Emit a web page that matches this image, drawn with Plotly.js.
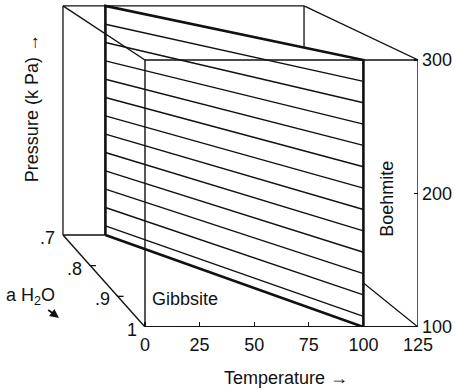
<!DOCTYPE html>
<html>
<head>
<meta charset="utf-8">
<script src="https://cdn.plot.ly/plotly-3.0.1.min.js"></script>
<style>html,body{margin:0;padding:0;background:#fff;}#chart{width:455px;height:390px;}</style>
</head>
<body>
<div id="chart"></div>
<script>
// ---- data ----
const T_TICKS = [0, 25, 50, 75, 100, 125];          // Temperature
const P_TICKS = [100, 200, 300];                     // Pressure (kPa)
const A_TICKS = [0.7, 0.8, 0.9, 1.0];                // a H2O
const A_TICK_LABELS = ['.7', '.8', '.9', '1'];
const T_RANGE = [0, 125];
const P_RANGE = [100, 300];
const A_RANGE = [0.7, 1.0];
const BOUNDARY_A = [0.7, 1.0];                       // gibbsite/boehmite boundary
const BOUNDARY_T = [22, 100];
const HATCH_P = [284, 268, 252, 236, 220, 204, 188, 172, 156, 140, 124, 108];

// ---- perspective projection of (T, P, a) into the front-face axes ----
const VX = -321, VY = 585.4, SX = 0.883, SY = 0.858;
function proj(T, P, a) {
  const d = (1 - a) / (A_RANGE[1] - A_RANGE[0]);
  const fx = 1 - d * (1 - SX), fy = 1 - d * (1 - SY);
  return [VX + (T - VX) * fx, VY + (P - VY) * fy];
}
function segs(list) {
  const x = [], y = [];
  list.forEach(s => {
    s.forEach(p => { const q = proj(p[0], p[1], p[2]); x.push(q[0]); y.push(q[1]); });
    x.push(null); y.push(null);
  });
  return {x, y};
}
const T0 = T_RANGE[0], T1 = T_RANGE[1], P0 = P_RANGE[0], P1 = P_RANGE[1], A0 = A_RANGE[0], A1 = A_RANGE[1];

// edges partly hidden behind the plane
const backEdges = segs([
  [[T0, P0, A0], [T0, P1, A0]],
  [[T0, P1, A0], [T1, P1, A0]],
  [[T1, P1, A0], [T1, P0, A0]],
  [[T0, P0, A0], [T1, P0, A0]],
  [[T1, P0, A0], [T1, P0, A1]],
  [[T1, P1, A0], [T1, P1, A1]]
]);
// boundary plane
const planePts = [
  [BOUNDARY_T[0], P0, BOUNDARY_A[0]], [BOUNDARY_T[0], P1, BOUNDARY_A[0]],
  [BOUNDARY_T[1], P1, BOUNDARY_A[1]], [BOUNDARY_T[1], P0, BOUNDARY_A[1]],
  [BOUNDARY_T[0], P0, BOUNDARY_A[0]]
];
const plane = {x: [], y: []};
planePts.forEach(p => { const q = proj(p[0], p[1], p[2]); plane.x.push(q[0]); plane.y.push(q[1]); });
const hatch = segs(HATCH_P.map(P => [[BOUNDARY_T[0], P, BOUNDARY_A[0]], [BOUNDARY_T[1], P, BOUNDARY_A[1]]]));
// front edges
const frontEdges = segs([
  [[T0, P0, A1], [T0, P1, A1]],
  [[T0, P1, A1], [T1, P1, A1]],
  [[T1, P1, A1], [T1, P0, A1]],
  [[T0, P1, A0], [T0, P1, A1]],
  [[T0, P0, A0], [T0, P0, A1]]
]);
const bottomEdge = segs([[[T0, P0, A1], [T1, P0, A1]]]);
// a-axis tick marks
const aTicks = segs(A_TICKS.slice(1, -1).map(a => [[T0, P0, a], [T0 + 2.8, P0, a]]));

const K = '#111';
const traces = [
  {x: backEdges.x, y: backEdges.y, mode: 'lines', line: {color: K, width: 1.3}},
  {x: plane.x, y: plane.y, mode: 'lines', fill: 'toself', fillcolor: '#fff', line: {color: K, width: 2.6}},
  {x: hatch.x, y: hatch.y, mode: 'lines', line: {color: K, width: 1.4}},
  {x: frontEdges.x, y: frontEdges.y, mode: 'lines', line: {color: K, width: 1.4}},
  {x: bottomEdge.x, y: bottomEdge.y, mode: 'lines', line: {color: K, width: 2}},
  {x: aTicks.x, y: aTicks.y, mode: 'lines', line: {color: K, width: 1.3}}
];

const FONT = {family: 'Liberation Sans, Arial, sans-serif', size: 18, color: K};
const annotations = A_TICKS.map((a, i) => {
  const q = proj(T0, P0, a);
  return {x: q[0], y: q[1], xref: 'x', yref: 'y', text: A_TICK_LABELS[i], showarrow: false,
          xanchor: 'right', yanchor: 'middle', xshift: -6, yshift: -3, font: FONT};
});
annotations.push(
  {x: 18.3, y: 121, xref: 'x', yref: 'y', text: 'Gibbsite', showarrow: false, font: FONT},
  {x: 110.8, y: 196, xref: 'x', yref: 'y', text: 'Boehmite', textangle: -90, showarrow: false, font: FONT},
  {x: -51.7, y: 264, xref: 'x', yref: 'y', text: 'Pressure (k Pa) →', textangle: -90, showarrow: false, font: FONT},
  {x: 0.684, y: -0.156, xref: 'paper', yref: 'paper', xanchor: 'center', yanchor: 'middle',
   text: 'Temperature →', showarrow: false, font: FONT},
  {x: -39.4, y: 106.8, xref: 'x', yref: 'y', text: 'a H<sub>2</sub>O', showarrow: true,
   arrowhead: 2, arrowsize: 1, arrowwidth: 1.8, arrowcolor: K, ax: -28, ay: -21, standoff: 0, font: FONT}
);

const layout = {
  width: 455, height: 390,
  margin: {l: 0, r: 37, t: 0, b: 63, pad: 0},
  paper_bgcolor: '#fff', plot_bgcolor: 'rgba(0,0,0,0)',
  showlegend: false, hovermode: false,
  xaxis: {range: [-66.39, 125], showgrid: false, zeroline: false, showline: false,
          tickmode: 'array', tickvals: T_TICKS, ticktext: T_TICKS.map(String),
          ticks: 'inside', ticklen: 5, tickwidth: 1.3, tickcolor: K, tickfont: FONT,
          ticklabelstandoff: 5},
  yaxis: {range: [100, 344.94], side: 'right', showgrid: false, zeroline: false, showline: false,
          tickmode: 'array', tickvals: P_TICKS, ticktext: P_TICKS.map(String),
          ticks: 'inside', ticklen: 4, tickwidth: 1.3, tickcolor: K, tickfont: FONT,
          ticklabelstandoff: 3},
  annotations: annotations
};
traces.forEach(t => { t.hoverinfo = 'skip'; t.cliponaxis = false; });
Plotly.newPlot('chart', traces, layout, {staticPlot: true, displayModeBar: false});
</script>
</body>
</html>
